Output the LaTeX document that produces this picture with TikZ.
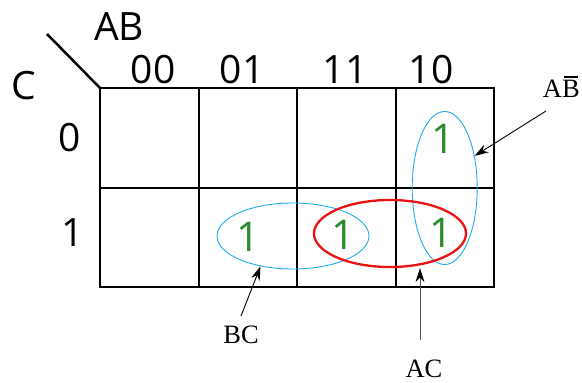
\documentclass[tikz,border=0pt]{standalone}
\usepackage{fontspec}
\setmainfont{Liberation Serif}
\newfontfamily\kfont{Open Sans}
\usetikzlibrary{shapes.geometric,arrows.meta}
\definecolor{kgreen}{RGB}{40,140,40}
\definecolor{kblue}{RGB}{30,170,235}
\definecolor{kred}{RGB}{235,20,20}
\newcommand{\barB}{\setbox0\hbox{B}\rlap{\hbox to \wd0{\hfil\rule[\dimexpr\ht0+2pt\relax]{0.82\wd0}{1.3pt}\hfil}}B}
\tikzset{
  big/.style={inner sep=0pt,font=\kfont\fontsize{39}{39}\selectfont},
  one/.style={inner sep=0pt,text=kgreen,font=\kfont\fontsize{41}{41}\selectfont},
  lbl/.style={inner sep=0pt,font=\fontsize{26.5}{26.5}\selectfont},
  loop/.style={ellipse,draw=kblue,line width=0.9pt,inner sep=0pt},
  redloop/.style={ellipse,draw=kred,line width=2.3pt,inner sep=0pt},
  grid/.style={line width=1.5pt},
  arr/.style={-{Stealth[length=14pt,width=9pt,color=black]},line width=0.9pt}
}
\begin{document}
\begin{tikzpicture}[x=1pt,y=-1pt]
\useasboundingbox (0,0) rectangle (582,383);
% grid
\draw[grid] (100,88) rectangle (494,287);
\draw[grid] (100,188) -- (494,188);
\draw[grid] (199,88) -- (199,287);
\draw[grid] (297,88) -- (297,287);
\draw[grid] (396,88) -- (396,287);
\coordinate (corner) at (100,88);
\coordinate (dstart) at (47,34);
\draw[line width=2.5pt] (dstart) -- (corner);
% headers
\node[big] (ab) at (119,27) {AB};
\node[big] (c) at (24,86) {C};
\node[big] (h00) at (153,70) {00};
\node[big] (h01) at (242,70) {01};
\node[big] (h11) at (345,70) {11};
\node[big] (h10) at (431,70) {10};
\node[big] (r0) at (70,138) {0};
\node[big] (r1) at (73,233) {1};
% ones
\node[one] (o1) at (443,139) {1};
\node[one] (o2) at (248,237) {1};
\node[one] (o3) at (343,235) {1};
\node[one] (o4) at (441,233) {1};
% loops
\node[loop,minimum width=65pt,minimum height=153pt] (eAB) at (444.7,188) {};
\node[loop,minimum width=152pt,minimum height=66pt] (eBC) at (293,236) {};
\node[redloop,minimum width=152pt,minimum height=67pt] (eAC) at (390,233.5) {};
% labels
\node[lbl,anchor=base east] (lAB) at (580,97) {A\barB};
\node[lbl] (lBC) at (241,335) {BC};
\node[lbl] (lAC) at (424,369) {AC};
\coordinate (sAB) at (546,111);
\coordinate (sBC) at (241,316);
\coordinate (sAC) at (420,340);
\draw[arr] (sAB) -- (eAB.47);
\draw[arr] (sBC) -- (eBC.223);
\draw[arr,draw=black!65] (sAC) -- (sAC |- eAC.south);
\end{tikzpicture}
\end{document}
